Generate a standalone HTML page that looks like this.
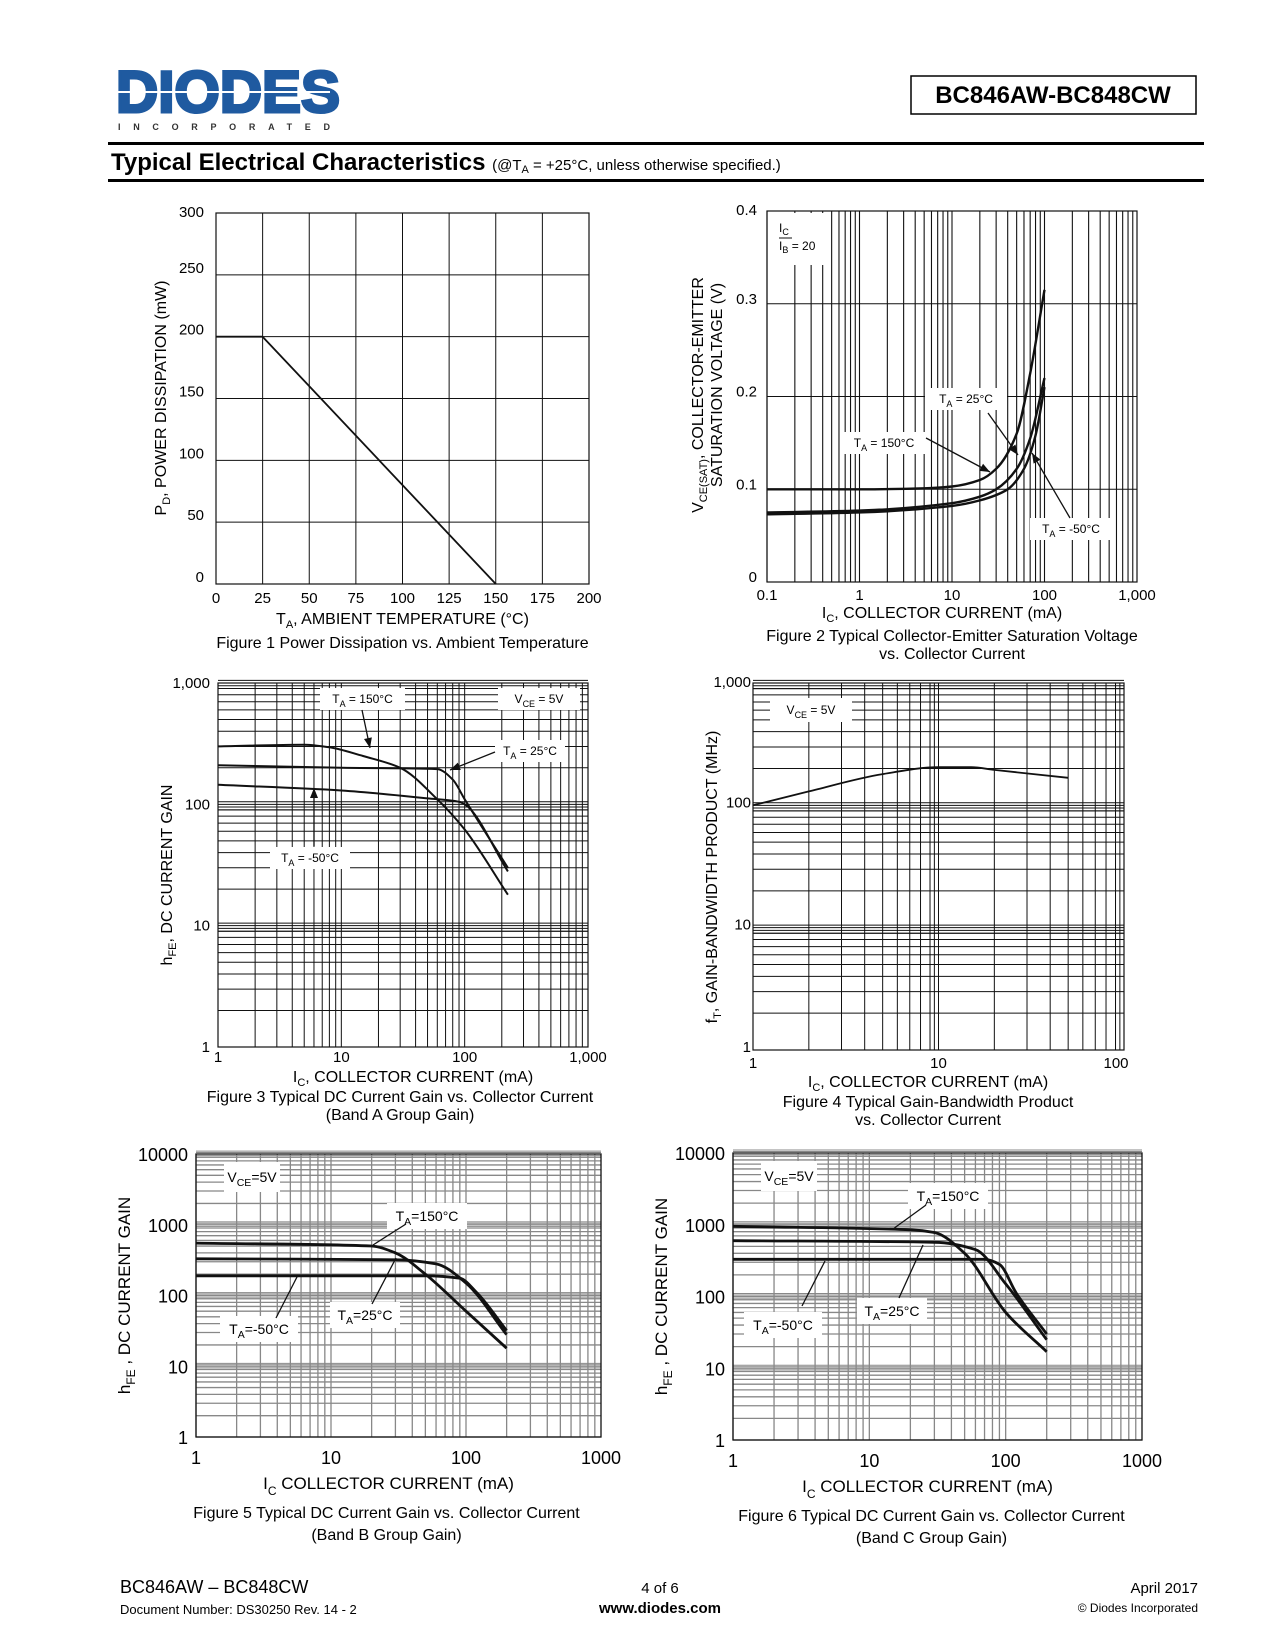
<!DOCTYPE html>
<html><head><meta charset="utf-8">
<style>
html,body{margin:0;padding:0;background:#fff}
svg{display:block;font-family:"Liberation Sans",Arial,sans-serif}
</style></head><body>
<svg id="pg" width="1275" height="1650" viewBox="0 0 1275 1650" xmlns="http://www.w3.org/2000/svg">
<g>
<text x="116" y="112" font-size="58" font-weight="bold" fill="#1f5aa0" stroke="#1f5aa0" stroke-width="3" textLength="224" lengthAdjust="spacingAndGlyphs">DIODES</text>
<line x1="116" y1="92" x2="330" y2="92" stroke="#fff" stroke-width="2"/>
<text x="118" y="130" font-size="9" font-weight="bold" fill="#333" textLength="212" lengthAdjust="spacing">INCORPORATED</text>
</g>
<rect x="911" y="76" width="285" height="38" fill="none" stroke="#000" stroke-width="1.5"/>
<text x="1053" y="103" font-size="24" font-weight="bold" text-anchor="middle">BC846AW-BC848CW</text>
<rect x="108" y="142" width="1096" height="3" fill="#000"/>
<text x="111" y="170" font-size="24" font-weight="bold">Typical Electrical Characteristics <tspan font-size="15" font-weight="normal">(@T<tspan font-size="11" dy="3">A</tspan><tspan dy="-3"> = +25°C, unless otherwise specified.)</tspan></tspan></text>
<rect x="108" y="179" width="1096" height="3" fill="#000"/>
<g id="charts"></g>
<g>
<text x="120" y="1593" font-size="18">BC846AW – BC848CW</text>
<text x="120" y="1614" font-size="13">Document Number:  DS30250 Rev. 14 - 2</text>
<text x="660" y="1593" font-size="15" text-anchor="middle">4 of 6</text>
<text x="660" y="1613" font-size="15" font-weight="bold" text-anchor="middle">www.diodes.com</text>
<text x="1198" y="1593" font-size="15" text-anchor="end">April 2017</text>
<text x="1198" y="1612" font-size="12" text-anchor="end">© Diodes Incorporated</text>
</g>
</svg>
<script>
// Figure 1
const f1X=[0,25,150];
const f1Y=[200,200,0];
const f1XTicks=[0,25,50,75,100,125,150,175,200];
const f1YTicks=[0,50,100,150,200,250,300];
// Figure 2
const f2X=[0.1,1,5,10,20,30,50,70,100];
const f2T150=[0.100,0.100,0.101,0.103,0.110,0.122,0.160,0.225,0.315];
const f2X25=[0.1,1,10,20,30,50,70,100];
const f2T25=[0.075,0.077,0.085,0.092,0.100,0.122,0.155,0.220];
const f2Xm50=[0.1,1,10,20,40,60,80,100];
const f2Tm50=[0.073,0.075,0.082,0.088,0.100,0.122,0.158,0.210];
const f2XTicks=[0.1,1,10,100,1000];
const f2XLabels=["0.1","1","10","100","1,000"];
const f2YTicks=[0,0.1,0.2,0.3,0.4];
// Figure 3
const f3X150=[1,5,8,15,30,60,100,224];
const f3Y150=[300,310,295,250,200,110,62,18];
const f3X25=[1,10,60,80,100,224];
const f3Y25=[210,200,195,160,110,30];
const f3Xm50=[1,10,50,90,100,224];
const f3Ym50=[145,130,112,105,100,28];
const f3Ticks=[1,10,100,1000];
const f3Labels=["1","10","100","1,000"];
// Figure 4
const f4X=[1,2,5,10,15,20,50];
const f4Y=[100,130,180,205,205,195,168];
const f4XTicks=[1,10,100];
const f4YTicks=[1,10,100,1000];
const f4YLabels=["1","10","100","1,000"];
// Figure 5
const f5X150=[1,20,30,50,100,200];
const f5Y150=[550,500,400,200,60,18];
const f5X25=[1,30,60,100,200];
const f5Y25=[330,320,280,150,28];
const f5Xm50=[1,50,90,120,200];
const f5Ym50=[190,190,175,110,32];
// Figure 6
const f6X150=[1,20,30,50,100,200];
const f6Y150=[950,850,780,400,60,17];
const f6X25=[1,30,60,100,200];
const f6Y25=[600,570,450,150,25];
const f6Xm50=[1,70,90,120,200];
const f6Ym50=[330,330,280,110,30];
const ticks4=[1,10,100,1000];
const ticks5=[1,10,100,1000,10000];

const NS="http://www.w3.org/2000/svg";
const root=document.getElementById('charts');
function mk(tag,at,parent){const e=document.createElementNS(NS,tag);for(const k in at)e.setAttribute(k,at[k]);(parent||root).appendChild(e);return e;}
function linS(d0,d1,r0,r1){return v=>r0+(v-d0)/(d1-d0)*(r1-r0);}
function logS(d0,d1,r0,r1){return v=>r0+(Math.log10(v)-Math.log10(d0))/(Math.log10(d1)-Math.log10(d0))*(r1-r0);}
// monotone cubic (Fritsch-Carlson) in pixel space
function curve(g,xs,ys,sx,sy,w,name,smooth){
  const X=xs.map(sx),Y=ys.map(sy),n=X.length;
  let d="M"+X[0].toFixed(1)+","+Y[0].toFixed(1);
  if(!smooth||n<3){for(let i=1;i<n;i++)d+="L"+X[i].toFixed(1)+","+Y[i].toFixed(1);}
  else{
    const h=[],s=[];
    for(let i=0;i<n-1;i++){h.push(X[i+1]-X[i]);s.push((Y[i+1]-Y[i])/h[i]);}
    const m=[s[0]];
    for(let i=1;i<n-1;i++){ if(s[i-1]*s[i]<=0)m.push(0); else {const w1=2*h[i]+h[i-1],w2=h[i]+2*h[i-1];m.push((w1+w2)/(w1/s[i-1]+w2/s[i]));}}
    m.push(s[n-2]);
    for(let i=0;i<n-1;i++){
      const c1x=X[i]+h[i]/3,c1y=Y[i]+m[i]*h[i]/3,c2x=X[i+1]-h[i]/3,c2y=Y[i+1]-m[i+1]*h[i]/3;
      d+="C"+[c1x,c1y,c2x,c2y,X[i+1],Y[i+1]].map(v=>v.toFixed(1)).join(" ");
    }
  }
  const p=mk('path',{d:d,fill:'none',stroke:'#111','stroke-width':w,'stroke-linejoin':'round'},g);
  
  
}
function txt(g,x,y,s,size,anchor,name,extra){
  const t=mk('text',Object.assign({x:x,y:y,'font-size':size,'text-anchor':anchor||'start'},extra||{}),g);
  t.innerHTML=s;
  
  
  return t;
}
function logGridX(g,sx,d0,d1,y0,y1,col,w){
  for(let dec=d0;dec<d1;dec*=10)for(let m=1;m<10;m++){const x=sx(dec*m);mk('line',{x1:x,y1:y0,x2:x,y2:y1,stroke:col,'stroke-width':w},g);}
}
function logGridY(g,sy,d0,d1,x0,x1,col,w){
  for(let dec=d0;dec<d1;dec*=10)for(let m=1;m<10;m++){const y=sy(dec*m);mk('line',{x1:x0,y1:y,x2:x1,y2:y,stroke:col,'stroke-width':w},g);}
}
function label(g,x,y,w,h,html,size,name){
  const r=mk('rect',{x:x,y:y,width:w,height:h,fill:'#fff'},g);
  
  
  txt(g,x+w/2,y+h/2+size*0.35,html,size,'middle',name);
}
function arrow(g,x1,y1,x2,y2,name){
  const l=mk('line',{x1:x1,y1:y1,x2:x2,y2:y2,stroke:'#111','stroke-width':1.3},g);
  
  
  const a=Math.atan2(y2-y1,x2-x1),L=10,W=4;
  const p=[[x2,y2],[x2-L*Math.cos(a)+W*Math.sin(a),y2-L*Math.sin(a)-W*Math.cos(a)],[x2-L*Math.cos(a)-W*Math.sin(a),y2-L*Math.sin(a)+W*Math.cos(a)]];
  mk('polygon',{points:p.map(q=>q.join(',')).join(' '),fill:'#111'},g);
}
const sub=(s)=>'<tspan font-size="0.75em" dy="4">'+s+'</tspan><tspan dy="-4">';

// ---------- Figure 1 ----------
(function(){
  const g=mk('g',{});
  const L=216,R=589,T=213,B=584;
  const sx=linS(0,200,L,R),sy=linS(0,300,B,T);
  f1XTicks.forEach(v=>{mk('line',{x1:sx(v),y1:T,x2:sx(v),y2:B,stroke:'#111','stroke-width':1},g);txt(g,sx(v),603,String(v),15,'middle','x-tick-label');});
  f1YTicks.forEach(v=>{mk('line',{x1:L,y1:sy(v),x2:R,y2:sy(v),stroke:'#111','stroke-width':1},g);txt(g,L-12,sy(v)+(v==300?4:-2),String(v),15,'end','y-tick-label');});
  mk('rect',{x:L,y:T,width:R-L,height:B-T,fill:'none',stroke:'#111','stroke-width':1.2},g);
  curve(g,f1X,f1Y,sx,sy,1.8,'pd-derating-line',false);
  txt(g,(L+R)/2,624,'T<tspan font-size="11" dy="4">A</tspan><tspan dy="-4">, AMBIENT TEMPERATURE (°C)</tspan>',16,'middle','x-axis-title');
  txt(g,0,0,'P<tspan font-size="11" dy="4">D</tspan><tspan dy="-4">, POWER DISSIPATION (mW)</tspan>',16,'middle','y-axis-title',{transform:'translate(166,398) rotate(-90)'});
  txt(g,(L+R)/2,648,'Figure 1 Power Dissipation vs. Ambient Temperature',16,'middle','figure-1-caption');
})();

// ---------- Figure 2 ----------
(function(){
  const g=mk('g',{});
  const L=767,R=1137,T=211,B=582;
  const sx=logS(0.1,1000,L,R),sy=linS(0,0.4,B,T);
  logGridX(g,sx,0.1,1000,T,B,'#111',1.1);
  f2YTicks.forEach(v=>{mk('line',{x1:L,y1:sy(v),x2:R,y2:sy(v),stroke:'#111','stroke-width':1},g);txt(g,L-10,sy(v)+(v==0.4?4:0),String(v),15,'end','y-tick-label');});
  f2XTicks.forEach((v,i)=>txt(g,sx(v),600,f2XLabels[i],15,'middle','x-tick-label'));
  mk('rect',{x:L,y:T,width:R-L,height:B-T,fill:'none',stroke:'#111','stroke-width':1.2},g);
  mk('rect',{x:L+2,y:T+2,width:60,height:52,fill:'#fff'},g);
  txt(g,779,232,'I<tspan font-size="9" dy="3">C</tspan>',12,'start','ic-ib-ratio-num');
  mk('line',{x1:779,y1:238,x2:792,y2:238,stroke:'#111','stroke-width':1},g);
  txt(g,779,250,'I<tspan font-size="9" dy="3">B</tspan><tspan dy="-3"> = 20</tspan>',12,'start','ic-ib-ratio');
  curve(g,f2X,f2T150,sx,sy,2.4,'vcesat-150c',true);
  curve(g,f2X25,f2T25,sx,sy,2.4,'vcesat-25c',true);
  curve(g,f2Xm50,f2Tm50,sx,sy,2.4,'vcesat-minus50c',true);
  label(g,925,388,82,22,'T'+sub('A')+' = 25°C</tspan>',12,'label-25c');
  label(g,843,432,82,22,'T'+sub('A')+' = 150°C</tspan>',12,'label-150c');
  label(g,1030,518,82,22,'T'+sub('A')+' = -50°C</tspan>',12,'label-minus50c');
  arrow(g,926,438,990,472,'arrow-150c');
  arrow(g,988,413,1018,455,'arrow-25c');
  arrow(g,1070,518,1032,453,'arrow-minus50c');
  txt(g,(L+R)/2-10,618,'I<tspan font-size="11" dy="4">C</tspan><tspan dy="-4">, COLLECTOR CURRENT (mA)</tspan>',16,'middle','x-axis-title');
  txt(g,0,0,'V<tspan font-size="11" dy="4">CE(SAT)</tspan><tspan dy="-4">, COLLECTOR-EMITTER</tspan>',16,'middle','y-axis-title',{transform:'translate(703,395) rotate(-90)'});
  txt(g,0,0,'SATURATION VOLTAGE (V)',16,'middle','y-axis-title-2',{transform:'translate(722,385) rotate(-90)'});
  txt(g,952,641,'Figure 2  Typical Collector-Emitter Saturation Voltage',16,'middle','figure-2-caption');
  txt(g,952,659,'vs. Collector Current',16,'middle','figure-2-caption-2');
})();

// ---------- Figure 3 ----------
(function(){
  const g=mk('g',{});
  const L=218,R=588,T=683,B=1047;
  const sx=logS(1,1000,L,R),sy=logS(1,1000,B,T);
  logGridX(g,sx,1,1000,T,B,'#111',1);
  logGridY(g,sy,1,1000,L,R,'#111',1);
  [1,10,100].forEach(d=>{[0.9,0.95,1.05].forEach(m=>{const y=sy(d*10*m);mk('line',{x1:L,y1:y,x2:R,y2:y,stroke:'#111','stroke-width':1},g);});});
  f3Ticks.forEach((v,i)=>{txt(g,sx(v),1062,f3Labels[i],15,'middle','x-tick-label');txt(g,L-8,sy(v)+5,f3Labels[i],15,'end','y-tick-label');});
  mk('rect',{x:L,y:T,width:R-L,height:B-T,fill:'none',stroke:'#111','stroke-width':1.2},g);
  label(g,320,688,85,22,'T'+sub('A')+' =  150°C</tspan>',12,'label-150c');
  label(g,498,688,82,22,'V'+sub('CE')+' =  5V</tspan>',12,'label-vce');
  label(g,495,740,70,22,'T'+sub('A')+' =  25°C</tspan>',12,'label-25c');
  label(g,270,847,80,22,'T'+sub('A')+' =  -50°C</tspan>',12,'label-minus50c');
  curve(g,f3X150,f3Y150,sx,sy,2,'hfe-150c',true);
  curve(g,f3X25,f3Y25,sx,sy,2,'hfe-25c',true);
  curve(g,f3Xm50,f3Ym50,sx,sy,2,'hfe-minus50c',true);
  arrow(g,362,710,370,748,'arrow-150c');
  arrow(g,495,752,450,770,'arrow-25c');
  arrow(g,314,846,314,788,'arrow-minus50c');
  txt(g,(L+R)/2+10,1082,'I<tspan font-size="11" dy="4">C</tspan><tspan dy="-4">, COLLECTOR CURRENT (mA)</tspan>',16,'middle','x-axis-title');
  txt(g,0,0,'h<tspan font-size="11" dy="4">FE</tspan><tspan dy="-4">, DC CURRENT GAIN</tspan>',16,'middle','y-axis-title',{transform:'translate(172,875) rotate(-90)'});
  txt(g,400,1102,'Figure 3 Typical DC Current Gain vs. Collector Current',16,'middle','figure-3-caption');
  txt(g,400,1120,'(Band A Group Gain)',16,'middle','figure-3-caption-2');
})();

// ---------- Figure 4 ----------
(function(){
  const g=mk('g',{});
  const L=753,R=1124,T=683,B=1050;
  const sx=logS(1,100,L,R),sy=logS(1,1000,B,T);
  logGridX(g,sx,1,100,T,B,'#111',1);
  logGridY(g,sy,1,1000,L,R,'#111',1);
  [1,10,100].forEach(d=>{[0.9,0.95,1.05].forEach(m=>{const y=sy(d*10*m);mk('line',{x1:L,y1:y,x2:R,y2:y,stroke:'#111','stroke-width':1},g);});});
  [1,10].forEach(d=>{[0.9,0.95].forEach(m=>{const x=sx(d*10*m);mk('line',{x1:x,y1:T,x2:x,y2:B,stroke:'#111','stroke-width':1},g);});});
  f4XTicks.forEach(v=>txt(g,sx(v)+(v==100?-8:0),1068,String(v),15,'middle','x-tick-label'));
  f4YTicks.forEach((v,i)=>txt(g,L-2,sy(v)+(v==1000?4:2),f4YLabels[i],15,'end','y-tick-label'));
  mk('rect',{x:L,y:T,width:R-L,height:B-T,fill:'none',stroke:'#111','stroke-width':1.2},g);
  label(g,770,698,82,24,'V'+sub('CE')+' = 5V</tspan>',12,'label-vce');
  curve(g,f4X,f4Y,sx,sy,1.8,'ft-curve',true);
  txt(g,928,1087,'I<tspan font-size="11" dy="4">C</tspan><tspan dy="-4">, COLLECTOR CURRENT (mA)</tspan>',16,'middle','x-axis-title');
  txt(g,0,0,'f<tspan font-size="11" dy="4">T</tspan><tspan dy="-4">, GAIN-BANDWIDTH PRODUCT (MHz)</tspan>',16,'middle','y-axis-title',{transform:'translate(717,877) rotate(-90)'});
  txt(g,928,1107,'Figure 4 Typical Gain-Bandwidth Product',16,'middle','figure-4-caption');
  txt(g,928,1125,'vs. Collector Current',16,'middle','figure-4-caption-2');
})();

// ---------- Figures 5 & 6 ----------
function gainChart(L,R,T,B,fig,band,d,labs){
  const g=mk('g',{});
  const sx=logS(1,1000,L,R),sy=logS(1,10000,B,T);
  logGridX(g,sx,1,1000,T,B,'#888',1.3);
  logGridY(g,sy,1,10000,L,R,'#888',1.3);
  [1,10,100,1000].forEach(dd=>{[0.9,0.95,1.05,1.1].forEach(m=>{const y=sy(dd*10*m);mk('line',{x1:L,y1:y,x2:R,y2:y,stroke:'#888','stroke-width':1},g);});});
  ticks4.forEach(v=>txt(g,sx(v),B+27,String(v),18,'middle','x-tick-label'));
  ticks5.forEach(v=>txt(g,L-8,sy(v)+7,String(v),18,'end','y-tick-label'));
  mk('rect',{x:L,y:T,width:R-L,height:B-T,fill:'none',stroke:'#111','stroke-width':1.3},g);
  label(g,L+28,T+8,56,30,'V'+sub('CE')+'=5V</tspan>',14,'label-vce');
  curve(g,d[0],d[1],sx,sy,2.8,'hfe-150c',true);
  curve(g,d[2],d[3],sx,sy,2.8,'hfe-25c',true);
  curve(g,d[4],d[5],sx,sy,2.8,'hfe-minus50c',true);
  labs.forEach(l=>{label(g,l[0],l[1],l[2],26,'T'+sub('A')+l[3]+'</tspan>',14,l[4]);mk('line',{x1:l[5],y1:l[6],x2:l[7],y2:l[8],stroke:'#111','stroke-width':1.3},g);});
  txt(g,(L+R)/2-10,B+52,'I<tspan font-size="12" dy="6">C</tspan><tspan dy="-6">   COLLECTOR CURRENT (mA)</tspan>',17,'middle','x-axis-title');
  txt(g,0,0,'h<tspan font-size="12" dy="5">FE</tspan><tspan dy="-5"> , DC CURRENT GAIN</tspan>',17,'middle','y-axis-title',{transform:'translate('+(L-66)+','+((T+B)/2)+') rotate(-90)'});
  txt(g,(L+R)/2+(fig==5?-12:-6),B+81,'Figure '+fig+' Typical DC Current Gain vs. Collector Current',16,'middle','figure-'+fig+'-caption');
  txt(g,(L+R)/2+(fig==5?-12:-6),B+103,'(Band '+band+' Group Gain)',16,'middle','figure-'+fig+'-caption-2');
}
gainChart(196,601,1154,1437,5,'B',[f5X150,f5Y150,f5X25,f5Y25,f5Xm50,f5Ym50],
 [[387,1203,80,'=150°C','label-150c',406,1224,373,1245],
  [330,1302,70,'=25°C','label-25c',372,1304,396,1258],
  [220,1316,78,'=-50°C','label-minus50c',276,1318,298,1275]]);
gainChart(733,1142,1153,1440,6,'C',[f6X150,f6Y150,f6X25,f6Y25,f6Xm50,f6Ym50],
 [[908,1183,80,'=150°C','label-150c',926,1205,893,1229],
  [857,1298,70,'=25°C','label-25c',899,1298,923,1245],
  [744,1312,78,'=-50°C','label-minus50c',802,1306,825,1261]]);
</script>
</body></html>
